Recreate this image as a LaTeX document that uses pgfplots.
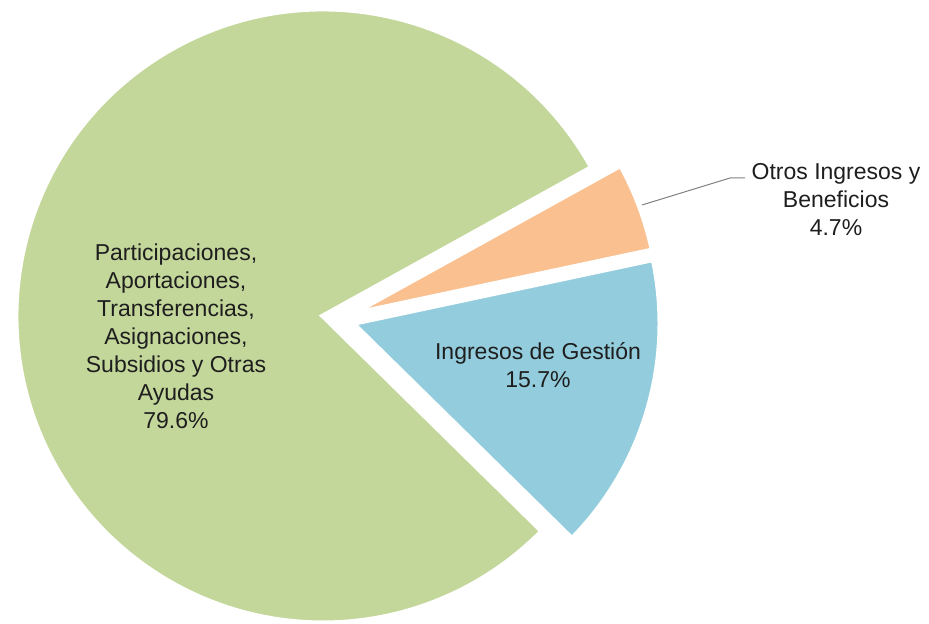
\documentclass[border=0pt]{standalone}
\usepackage{pgfplots}
\pgfplotsset{compat=1.18}
\usepackage{fontspec}
\setmainfont{Liberation Sans}

\definecolor{cGreen}{HTML}{C4D79B}
\definecolor{cOrange}{HTML}{FAC090}
\definecolor{cBlue}{HTML}{93CDDD}
\definecolor{cText}{HTML}{1E1E1E}

% shares (%)
\def\vGes{15.7}
\def\vOtr{4.7}
\def\vPar{79.6}
% slice boundaries, counter-clockwise from the lower edge of the blue slice
\pgfmathsetmacro\aA{-44.5}
\pgfmathsetmacro\aB{\aA+3.6*\vGes}
\pgfmathsetmacro\aC{\aB+3.6*\vOtr}
\pgfmathsetmacro\aD{\aC+3.6*\vPar}

\begin{document}
\begin{tikzpicture}
\begin{axis}[
    name=ax,
    scale only axis, width=464.5pt, height=312pt,
    xmin=-323, xmax=606, ymin=-308, ymax=316,
    hide axis, clip=false,
    every axis plot/.append style={draw=white, line width=2.5pt, line join=miter},
]
% Participaciones, ...
\addplot[fill=cGreen, data cs=polar] coordinates {(0,0) (\aC,307)}
    arc[start angle=\aC, end angle=\aD, radius=153.5pt] -- cycle;
% Ingresos de Gestion (exploded)
\addplot[fill=cBlue, data cs=polar, shift={(15pt,-3.75pt)}] coordinates {(0,0) (\aA,307)}
    arc[start angle=\aA, end angle=\aB, radius=153.5pt] -- cycle;
% Otros Ingresos y Beneficios (exploded)
\addplot[fill=cOrange, data cs=polar, shift={(14.5pt,1pt)}] coordinates {(0,0) (\aB,307)}
    arc[start angle=\aB, end angle=\aC, radius=153.5pt] -- cycle;
% leader line
\addplot[draw=gray, line width=0.5pt, fill=none] coordinates {(319,111) (407,138) (422,138)};

\begin{scope}[every node/.style={font=\fontsize{11.5pt}{14pt}\selectfont, text=cText, align=center, inner sep=0pt}]
\node at (axis cs:-147,-20) {Participaciones,\\Aportaciones,\\Transferencias,\\Asignaciones,\\Subsidios y Otras\\Ayudas\\79.6\%};
\node at (axis cs:215,-49) {Ingresos de Gestión\\15.7\%};
\node at (axis cs:513,116) {Otros Ingresos y\\Beneficios\\4.7\%};
\end{scope}
\end{axis}
\pgfresetboundingbox
\path[use as bounding box] (ax.south west) rectangle (ax.north east);
\end{tikzpicture}
\end{document}
